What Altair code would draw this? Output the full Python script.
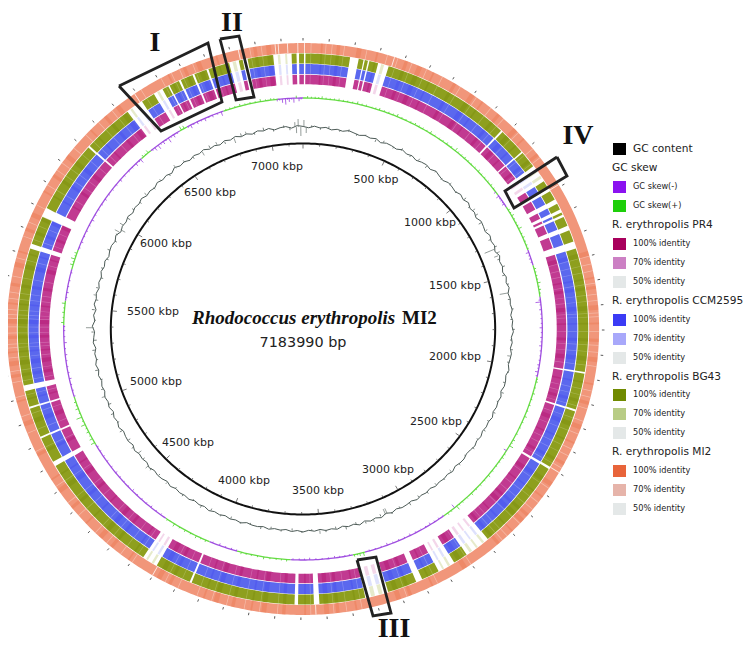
import math
import altair as alt
import pandas as pd

alt.data_transformers.disable_max_rows()

TOTAL_KBP = 7183.99
# ---------- values ----------
gap_start = [4,190,245,263,305,878,998,1074,1183,1237,1283,1307,1357,1427,1975,2135,2395,2786,2953,3099,3245,3526,3612,4051,4208,4793,4921,5053,5128,5727,5867,6210,6426,6555,6621,6669,6729,6789,6884,6940,7064,7158]
gap_end   = [10,225,250,269,349,886,1004,1149,1197,1257,1297,1317,1377,1457,1982,2143,2405,2893,3025,3125,3340,3548,3626,4059,4272,4813,4929,5061,5152,5747,5907,6218,6498,6595,6627,6677,6737,6797,6924,6960,7138,7168]
faint_start = [318,1090,1122,2805,2838,2866,2972,3000,3268,3300,4222,4250,6440,6472,6570,6898,7082,7112]
faint_end   = [330,1104,1134,2815,2846,2878,2982,3008,3284,3316,4232,4258,6450,6482,6580,6912,7092,7120]
orange_white = [7074,7086,7122,7162,4,358,1190,2395,3540,4200,6490,6930]

dark_bands = [70,132,210,288,402,455,520,610,688,742,820,905,960,1040,1480,1586,1622,1700,1770,1835,1910,2015,2090,2188,2262,2350,2443,2510,2600,2627,2690,2760,2920,3070,3160,3205,3380,3450,3490,3580,3660,3735,3790,3860,3925,3980,4120,4165,4310,4390,4445,4530,4610,4690,4750,4860,4990,5090,5190,5238,5290,5348,5410,5488,5562,5640,5700,5790,5850,5960,6030,6120,6265,6340,6400,6640,6705,6760,6840,6990,7040]
light_lines = [30,88,112,160,248,330,372,430,492,560,640,715,785,850,930,1015,1060,1500,1532,1560,1610,1655,1680,1730,1745,1805,1860,1888,1945,2045,2070,2118,2170,2225,2290,2320,2375,2470,2540,2575,2650,2720,2745,2900,3050,3180,3360,3420,3470,3560,3690,3760,3820,3890,3950,4010,4090,4145,4295,4350,4420,4480,4575,4640,4720,4880,4960,5030,5110,5170,5215,5270,5310,5325,5370,5395,5430,5445,5465,5510,5535,5600,5675,5765,5825,5900,5990,6060,6095,6170,6240,6310,6380,6520,6610,6655,6690,6745,6820,6975,7020]

skew_start = [0,1088,1160,1397,1477,1636,2035,2874,3293,3352,3652,3911,4051,4290,4789,5049,5408,5528,5687,5787,6338,6396,6565,6605,6797,7064]
skew_end   = [1088,1160,1397,1477,1636,2035,2874,3293,3352,3652,3911,4051,4290,4789,5049,5408,5528,5687,5787,6338,6396,6565,6605,6797,7064,7184]
skew_sign  = ["+","-","+","-","+","-","+","-","+","-","+","-","+","-","+","-","+","-","+","-","+","-","+","-","+","-"]
skew_pos = [22,58,91,130,172,214,262,305,333,371,418,462,507,556,598,641,690,735,788,804,846,890,938,982,1030,1071,1096,1120,1142,1178,1210,1250,1282,1330,1372,1410,1442,1495,1530,1566,1600,1652,1662,1700,1744,1790,1838,1880,1930,1975,2010,2030,2060,2120,2180,2240,2300,2368,2402,2430,2470,2520,2580,2640,2700,2760,2795,2808,2850,2900,2950,3000,3060,3120,3180,3240,3300,3318,3345,3390,3440,3500,3560,3610,3670,3720,3780,3840,3890,3940,4000,4070,4120,4180,4240,4320,4380,4440,4500,4560,4620,4690,4750,4800,4822,4860,4900,4940,4985,5020,5080,5140,5200,5260,5320,5380,5420,5470,5515,5570,5630,5710,5740,5770,5830,5890,5950,6010,6070,6130,6190,6250,6300,6330,6350,6380,6420,6440,6470,6500,6530,6575,6590,6625,6660,6700,6740,6785,6830,6880,6930,6980,7030,7060,7085,7100,7118,7140,7152,7165]
skew_val = [2,1.5,2.4,1.2,2,1.4,2.6,1.6,1,2.2,1.6,2.8,1.2,2,1.5,2.5,1.2,2,3.5,1.5,2,1.3,2.4,1.4,2,-2.2,-3,-1.5,-2.5,1.8,2.6,1.2,3.4,2,1.4,-3,-2,2,1.5,3,2.2,-1.8,-5,-2.2,-1.5,-2.6,-1.8,-2.4,-1.2,-2,-3,-1.6,1.8,2.2,1.6,2.4,1.3,2.2,4,-3,2,1.4,2.4,1.8,2.5,1.4,4.2,-4,2,-1.5,-2.2,-1.2,-2,-1.5,-2.4,-1.2,3.5,2.6,2,-1.4,-2,-1.2,-2.2,-1.5,2,1.4,2.4,1.5,2,-1.6,-2.2,2,2.6,2,3,-1.5,-2,-1.4,-2.4,-1.2,-2,-1.6,-1.4,4,3,2.4,4.2,5.5,3,2,-1.5,-2.2,-1.4,-2,-2.6,-1.5,2.6,2,3.2,-2,-1.4,3,4,2.4,-2,-1.5,-2.4,-1.4,-2,-1.5,-2.4,-1.4,-3,-4,2.4,3,-3.5,-4.5,-3,-5,-3,4,3,-3.5,-2.5,-3,-2.2,-4,1.5,2.2,1.6,2.6,1.8,-2,-4,-6,-3.5,-4.5,2.4,-3.2]
# short fuzz on the skew trace, between the bigger spikes
skew_fuzz_pos = [40,75,110,150,193,238,284,352,395,440,485,532,577,620,665,712,762,825,868,914,960,1006,1050,1108,1132,1194,1230,1266,1310,1352,1390,1426,1460,1512,1548,1584,1618,1676,1722,1768,1814,1860,1905,1952,1992,2046,2090,2150,2210,2270,2334,2385,2450,2495,2550,2610,2670,2730,2780,2830,2875,2925,2975,3030,3090,3150,3210,3270,3330,3368,3415,3470,3530,3585,3640,3695,3750,3810,3865,3915,3970,4035,4095,4150,4210,4280,4350,4410,4470,4530,4590,4655,4720,4775,4840,4880,4920,4962,5002,5050,5110,5170,5230,5290,5350,5400,5445,5492,5545,5600,5670,5725,5755,5800,5860,5920,5980,6040,6100,6160,6220,6275,6320,6365,6405,6455,6485,6515,6550,6610,6640,6680,6720,6765,6810,6855,6905,6955,7005,7045,7072,7110,7130,7175]

gc_dev = [0.6,-0.7,1.1,-0.3,0.8,-1.0,0.4,-0.6,1.2,0.1,-0.9,0.7,-0.4,1.0,-1.2,0.5,0.2,-0.8,1.3,-0.5,0.7,-1.1,0.3,0.9,-0.6,1.4,-0.2,-1.3,0.8,0.2,
          -0.9,1.1,-0.4,1.6,-0.7,0.5,-1.4,0.9,0.1,-1.0,1.3,-0.3,0.8,-1.2,1.5,-0.6,0.4,-1.1,1.0,-0.5,1.2,-0.9,0.3,-0.4,0.9,-1.0,0.6,-0.2,1.1,-0.7,
          0.4,-0.9,0.7,0.1,-0.6,1.0,-0.8,0.3,0.6,-1.1,0.8,-0.3,0.5,-0.7,1.1,-0.4,0.2,-0.9,0.7,-0.5,1.0,-0.2,-0.8,0.6,0.3,-1.0,0.9,-0.6,0.4,-0.3,
          0.8,-0.9,0.5,-0.4,1.1,-0.7,0.2,0.6,-0.8,0.9,-1.2,1.3,-0.5,0.8,-1.0,1.4,-0.7,0.4,-1.1,0.9,-0.3,0.7,-0.9,0.5,-0.6,1.0,-0.4,0.8,-0.8,0.3,
          -0.5,0.9,-0.7,0.4,0.2,-0.9,1.0,-0.3,0.6,-0.8,0.5,-0.4,1.1,-0.6,0.3,-0.9,0.8,-0.2,0.5,-0.7,0.9,-1.0,0.4,0.7,-0.5,1.2,-0.8,0.3,-0.6,1.0,
          -1.1,0.6,0.2,-0.9,1.3,-0.5,0.7,-1.2,0.9,-0.3,1.1,-0.8,0.4,-1.0,0.8,-0.6,1.2,-0.4,0.5,-1.1,0.9,0.1,-0.8,1.4,-0.9,0.6,-1.3,1.1,-0.2,0.7,
          -1.0,0.5,-0.7,1.2,-0.4,0.9,-1.1,0.3,0.8,-0.6,1.5,-1.2,0.4,-0.5,1.0,-0.9,0.7,-0.3,1.3,-0.8,0.2,-1.0,1.1,-0.6,0.5,-1.3,1.6,-0.4,0.8,-1.1,
          0.9,-0.2,1.4,-0.9,0.3,-1.2,1.0,-0.5,1.3,-0.7,0.6,-1.1,0.9,-0.3,1.2,-1.0,0.5,1.1,-0.8,1.5]
gc_spike_pos = [7172,7158,7148,7140,5,18,1080,1330,1354,1372,1590,1950,3118,3128,3200,3500,5000,5395,5580,5960,5975,6005,6440,6610,6700,6800,6870,4540,4630]
gc_spike_val = [-9,8,-6,5,7,-6,3,-11,3,-4,-9,-3,-6,-6,3,3.5,4,7.5,3,5,-5,4,4,-4,3,-5,3,4,-4]
gc_fuzz_pos = [47,96,141,203,251,298,346,407,451,512,559,617,668,723,781,832,887,941,1002,1053,1112,1163,1214,1271,1319,1392,1438,1487,1541,1627,1683,1742,1798,1859,1913,1986,2041,2103,2162,2217,2283,2339,2397,2458,2513,2574,2631,2692,2749,2803,2867,2921,2982,3041,3093,3156,3245,3298,3356,3412,3467,3544,3598,3652,3711,3768,3823,3884,3937,3995,4052,4113,4171,4227,4289,4344,4401,4462,4516,4587,4673,4722,4785,4838,4893,4951,5043,5098,5154,5213,5268,5324,5371,5438,5497,5553,5622,5681,5736,5792,5845,5903,5942,6051,6109,6163,6218,6275,6331,6388,6497,6552,6658,6745,6842,6915,6968,7021,7079,7112]
gc_fuzz_val = [1.8,-2,2.2,-1.6,2.5,-2,1.5,-2.4,1.9,-1.7,2.6,-1.5,2.1,-2.3,1.6,-2,2.4,-1.8,2.9,-1.7,2.2,-2.6,1.7,-2.2,2.6,-2,2.8,-2.4,1.9,-2.1,2.3,-1.6,2.5,-1.9,1.7,-2.2,1.5,-1.8,2.1,-1.5,1.9,-2,1.6,-1.7,2.2,-1.5,1.8,-2.1,1.6,-1.9,2.3,-2,2.6,-1.7,2.1,-2.4,1.8,-2.2,2.7,-1.9,2.3,-1.6,2,-2.3,1.7,-1.9,2.2,-1.6,1.8,-2.1,1.6,-2,2.3,-1.7,1.9,-2.2,1.6,-1.8,2.4,-2.1,1.9,-2.3,2.6,-1.8,2.2,-2.5,2,-2.2,2.8,-1.9,2.4,-2.6,2.2,-1.8,2.7,-2.3,1.9,-2.6,2.3,-2,2.8,-2.4,2.1,-2.7,2.2,-1.9,2.5,-2.3,1.8,-2.6,2.3,-2,2.7,-2.4,2.6,-2.2,2.9,-2.5,2.4,-2.8]

ring_names = ["MI2","BG43","CCM2595","PR4"]
ring_radius = [281,270.5,260,249.5]
ring_width  = [10,10,10,9.5]
ring_color  = ["#f1967a","#8e9f1e","#5b68ee","#c13a91"]
ring_dark   = ["#e8643a","#6f8400","#3b3bf0","#a8005c"]
ring_light  = ["#fbd3c5","#c9d38e","#b9bff8","#e6a8d2"]

kbp_labels = ["500 kbp","1000 kbp","1500 kbp","2000 kbp","2500 kbp","3000 kbp","3500 kbp","4000 kbp","4500 kbp","5000 kbp","5500 kbp","6000 kbp","6500 kbp","7000 kbp"]
kbp_label_x = [376,430,455,455,436,388,318,244,188,156,153,166,210,277]
kbp_label_y = [180,223,286,357,422,470,491,481,443,382,312,244,193,167]

legend_head = ["GC skew","R. erythropolis PR4","R. erythropolis CCM2595","R. erythropolis BG43","R. erythropolis MI2"]
legend_head_y = [168,225,301,377,452]
legend_item = ["GC skew(-)","GC skew(+)","100% identity","70% identity","50% identity","100% identity","70% identity","50% identity","100% identity","70% identity","50% identity","100% identity","70% identity","50% identity"]
legend_item_y = [187,206,244,263,282,320,339,358,395,414,433,471,490,509]
legend_color = ["#8b12f0","#1ecf0a","#a8005c","#cc80c4","#e4e8e8","#3b3bf5","#a8a8fa","#e4e8e8","#708a00","#b8cc85","#e4e8e8","#e8643a","#e6b4aa","#e4e8e8"]

box_names = ["I","II","III","IV"]
box_x = [[119,208,222,161,119],[220,239,254,236,220],[357,376,391,373,357],[557,567,514,505,557]]
box_y = [[86,43,102,131,86],[39,36,97,100,39],[560,557,613,616,560],[157,176,208,191,157]]
roman_x = [155,232,394,578]
roman_y = [43,23,629,136]

# ---------- geometry: genome position and ring radius to picture position ----------
CX, CY, KX = 303.0, 329.0, 1.036
def px(kbp, r):
    return CX + KX * r * math.sin(2 * math.pi * kbp / TOTAL_KBP)
def py(kbp, r):
    return CY - r * math.cos(2 * math.pi * kbp / TOTAL_KBP)

paths = []
def add_arc(key, a, b, r, w, color):
    n = max(1, int((b - a) / 12))
    for i in range(n + 1):
        k = a + (b - a) * i / n
        paths.append(dict(key=key, i=i, x=px(k, r), y=py(k, r), w=w, c=color))

sid = 0
for ri, name in enumerate(ring_names):
    r, w, col = ring_radius[ri], ring_width[ri], ring_color[ri]
    if name == "MI2":
        sid += 1
        add_arc(f"s{sid}", 0, TOTAL_KBP, r, w, col)
    else:
        starts = [0] + gap_end
        ends = gap_start + [TOTAL_KBP]
        for a, b in zip(starts, ends):
            sid += 1
            add_arc(f"s{sid}", a, b, r, w, col)

def in_gap(k):
    return any(a <= k <= b for a, b in zip(gap_start, gap_end))

for ri, name in enumerate(ring_names):
    r, w = ring_radius[ri], ring_width[ri]
    for n_, k in enumerate(dark_bands):
        if name != "MI2" and in_gap(k):
            continue
        sid += 1
        add_arc(f"d{sid}", k, k + 7 + (n_ % 3) * 6, r, w, ring_dark[ri] + "44")
    for k in light_lines:
        if name != "MI2" and in_gap(k):
            continue
        sid += 1
        add_arc(f"l{sid}", k, k + 3, r, w, "#ffffff55" if name == "MI2" else ring_light[ri] + "66")
    if name == "MI2":
        for k in orange_white:
            sid += 1
            add_arc(f"w{sid}", k, k + 3.5, r, w, "#ffffffcc")
    else:
        for a, b in zip(faint_start, faint_end):
            sid += 1
            add_arc(f"f{sid}", a, b, r, w, ring_light[ri] + "77")

sid += 1
add_arc(f"c{sid}", 0, TOTAL_KBP, 185.5, 2.0, "#111111")
for a, b, s in zip(skew_start, skew_end, skew_sign):
    sid += 1
    add_arc(f"k{sid}", a, b, 231, 1.3, "#66dd44" if s == "+" else "#a050e0")
step = TOTAL_KBP / len(gc_dev)
for i, v in enumerate(gc_dev + gc_dev[:1]):
    paths.append(dict(key="gc", i=i, x=px(i * step, 202 + v), y=py(i * step, 202 + v), w=1.0, c="#4c5a56"))
for n, xs, ys in zip(box_names, box_x, box_y):
    for i, (a, b) in enumerate(zip(xs, ys)):
        paths.append(dict(key="box" + n, i=i, x=a, y=b, w=2.8, c="#222222"))
paths = pd.DataFrame(paths)

rules = []
for k in range(0, 7184, 100):
    rules.append(dict(x=px(k, 288.5), y=py(k, 288.5), x2=px(k, 291), y2=py(k, 291), c="#444444", w=0.9))
    inner = 180.5 if k % 500 == 0 else 183
    rules.append(dict(x=px(k, inner), y=py(k, inner), x2=px(k, 185), y2=py(k, 185), c="#555555", w=0.8))
for k, v in zip(skew_pos, skew_val):
    rules.append(dict(x=px(k, 231), y=py(k, 231), x2=px(k, 231 + v), y2=py(k, 231 + v), c="#50d030" if v > 0 else "#9a40e0", w=0.8))
for k in skew_fuzz_pos:
    s = next(sg for a, b, sg in zip(skew_start, skew_end, skew_sign) if a <= k < b)
    v = 1.4 if s == "+" else -1.4
    rules.append(dict(x=px(k, 231), y=py(k, 231), x2=px(k, 231 + v), y2=py(k, 231 + v), c="#50d030" if v > 0 else "#9a40e0", w=0.8))
for k, v in zip(gc_spike_pos, gc_spike_val):
    rules.append(dict(x=px(k, 202), y=py(k, 202), x2=px(k, 202 + v), y2=py(k, 202 + v), c="#7a8480", w=0.8))
for k, v in zip(gc_fuzz_pos, gc_fuzz_val):
    rules.append(dict(x=px(k, 202), y=py(k, 202), x2=px(k, 202 + v), y2=py(k, 202 + v), c="#55625e", w=0.8))
rules = pd.DataFrame(rules)

X = alt.X("x:Q", axis=None, scale=alt.Scale(domain=[8, 745], range=[0, 737]))
Y = alt.Y("y:Q", axis=None, scale=alt.Scale(domain=[642, 8], range=[634, 0]))

line_layer = alt.Chart(paths).mark_line(strokeCap="butt", strokeJoin="miter", clip=False).encode(
    x=X, y=Y, detail="key:N", order="i:Q",
    color=alt.Color("c:N", scale=None),
    strokeWidth=alt.StrokeWidth("w:Q", scale=None),
)
rule_layer = alt.Chart(rules).mark_rule().encode(
    x=X, y=Y, x2="x2:Q", y2="y2:Q",
    color=alt.Color("c:N", scale=None),
    strokeWidth=alt.StrokeWidth("w:Q", scale=None),
)

def text_layer(df, **kw):
    return alt.Chart(df).mark_text(**kw).encode(x=X, y=Y, text="t:N")

kbp_df = pd.DataFrame(dict(t=kbp_labels, x=kbp_label_x, y=kbp_label_y))
kbp_layer = text_layer(kbp_df, font="DejaVu Sans", fontSize=11, color="#222222", align="center", baseline="middle")
roman_df = pd.DataFrame(dict(t=box_names, x=roman_x, y=roman_y))
roman_layer = text_layer(roman_df, font="Liberation Serif", fontWeight="bold", fontSize=28, color="#111111", align="center", baseline="middle")

title_a = text_layer(pd.DataFrame(dict(t=["Rhodococcus erythropolis"], x=[192], y=[318])),
                     font="Liberation Serif", fontWeight="bold", fontStyle="italic", fontSize=19, color="#111111", align="left", baseline="middle")
title_b = text_layer(pd.DataFrame(dict(t=["MI2"], x=[402], y=[318])),
                     font="Liberation Serif", fontWeight="bold", fontSize=19, color="#111111", align="left", baseline="middle")
title_c = text_layer(pd.DataFrame(dict(t=["7183990 bp"], x=[303], y=[343])),
                     font="DejaVu Sans", fontSize=14.4, color="#222222", align="center", baseline="middle")

head_df = pd.DataFrame(dict(t=legend_head + ["GC content"], x=[612] * 5 + [633], y=legend_head_y + [149]))
head_layer = text_layer(head_df, font="DejaVu Sans", fontSize=10.6, color="#222222", align="left", baseline="middle")
item_df = pd.DataFrame(dict(t=legend_item, x=[633] * len(legend_item), y=legend_item_y))
item_layer = text_layer(item_df, font="DejaVu Sans", fontSize=8.2, color="#222222", align="left", baseline="middle")
sq_df = pd.DataFrame(dict(
    x=[613] * (len(legend_item) + 1), x2=[626] * (len(legend_item) + 1),
    y=[143] + [v - 6 for v in legend_item_y], y2=[155] + [v + 6 for v in legend_item_y],
    c=["#000000"] + legend_color))
sq_layer = alt.Chart(sq_df).mark_rect().encode(x=X, y=Y, x2="x2:Q", y2="y2:Q", color=alt.Color("c:N", scale=None))

chart = alt.layer(line_layer, rule_layer, sq_layer, kbp_layer, roman_layer, title_a, title_b, title_c, head_layer, item_layer).properties(
    width=737, height=634, padding=0, autosize=alt.AutoSizeParams(type="none")
).configure_view(stroke=None)

chart.save("out.html", embed_options={"renderer": "svg", "actions": False})
